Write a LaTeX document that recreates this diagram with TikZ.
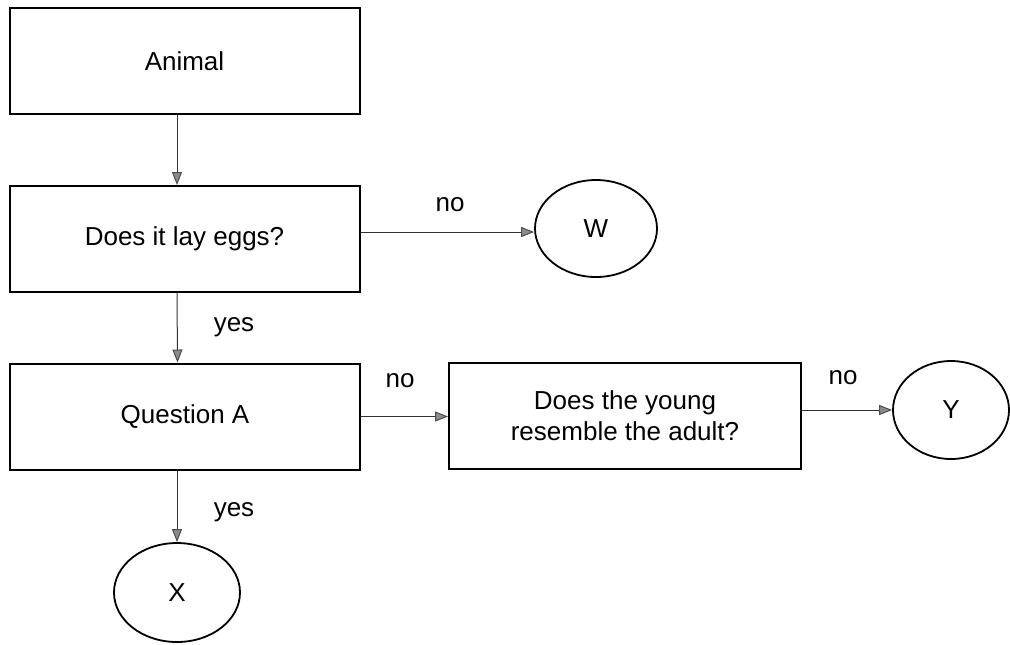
\documentclass[tikz,border=0pt]{standalone}
\usepackage{fontspec}
\setmainfont{Liberation Sans}
\usetikzlibrary{positioning,shapes.geometric,arrows.meta}

\begin{document}
\begin{tikzpicture}[x=0.5pt,y=-0.5pt,
		box/.style={draw=black,line width=1pt,minimum width=175pt,minimum height=53pt,inner sep=0pt,align=center,font=\fontsize{13}{15.5}\selectfont},
		leaf/.style={draw=black,line width=0.9pt,ellipse,inner sep=0pt,font=\fontsize{13}{15.5}\selectfont},
		lbl/.style={font=\fontsize{13}{15.5}\selectfont},
		arr/.style={draw=black!80,line width=0.5pt,-{Triangle[length=6.5pt,width=5pt,fill=black!45,color=black!70]}}]
	\useasboundingbox (0,0) rectangle (1010,644);
	
	% boxes of the key
	\node[box] (animal) at (184.5,61) {Animal};
	\node[box] (eggs) at (184.5,239) {Does it lay eggs?};
	\node[box] (qa) at (185,416.5) {Question A};
	\node[box,minimum width=176pt] (young) at (625,416) {Does the young\\resemble the adult?};
	
	% end points
	\node[leaf,minimum width=61pt,minimum height=48.5pt] (w) at (596,228.5) {W};
	\node[leaf,minimum width=58pt,minimum height=49pt] (y) at (951,410) {Y};
	\node[leaf,minimum width=63pt,minimum height=49.5pt] (x) at (177,592.5) {X};
	
	% connectors
	\coordinate (eggsout) at ([yshift=3.5pt]eggs.east);
	\coordinate (youngout) at ([yshift=3pt]young.east);
	\draw[arr] ([xshift=-3.75pt]animal.south) -- ([xshift=-3.75pt]eggs.north);
	\draw[arr] (eggsout) -- (eggsout -| w.west);
	\draw[arr] ([xshift=-3.75pt]eggs.south) -- ([xshift=-3.75pt]qa.north);
	\draw[arr] (qa.east) -- (qa.east -| young.west);
	\draw[arr] (youngout) -- (youngout -| y.west);
	\draw[arr] (x.north |- qa.south) -- (x.north);
	
	% answers
	\node[lbl] (no1) at (450,205) {no};
	\node[lbl] (no2) at (400,381) {no};
	\node[lbl] (no3) at (843,378) {no};
	\node[lbl] (yes1) at (234,327) {yes};
	\node[lbl] (yes2) at (234,512) {yes};
\end{tikzpicture}
\end{document}
